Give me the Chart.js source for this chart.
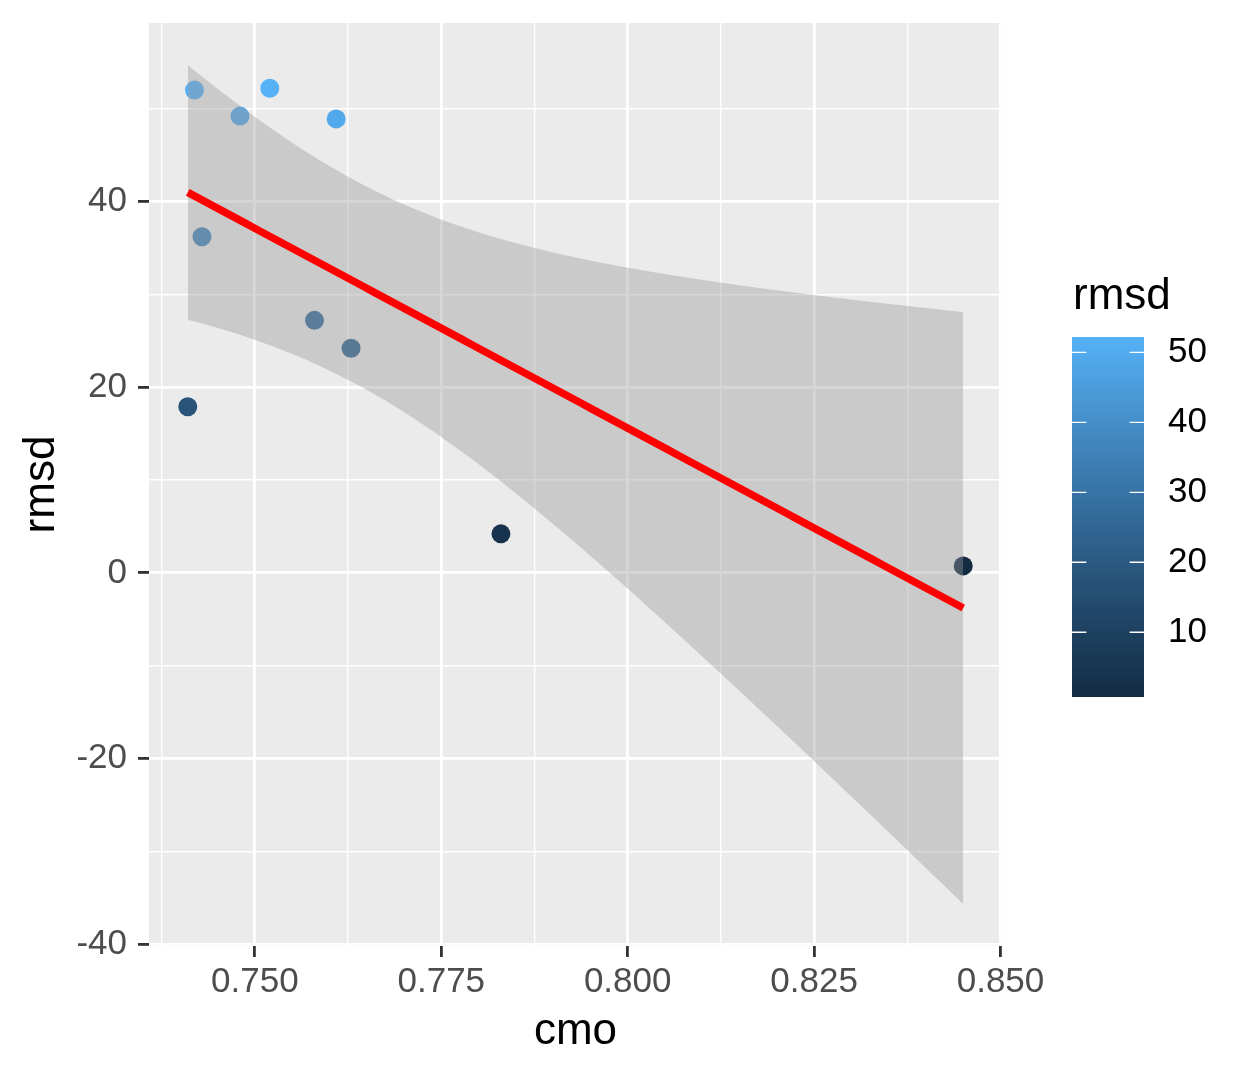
<!DOCTYPE html>
<html>
<head>
<meta charset="utf-8">
<script src="https://cdn.jsdelivr.net/npm/chart.js@4.4.1/dist/chart.umd.min.js"></script>
<style>
  html, body { margin: 0; padding: 0; background: #fff; }
  #wrap { width: 1253px; height: 1078px; position: relative; }
</style>
</head>
<body>
<div id="wrap"><canvas id="c"></canvas></div>
<script>
/* ─── Data ──────────────────────────────────────────────────────────────── */

const cmo  = [0.7410, 0.7419, 0.7429, 0.7480, 0.7520, 0.7580, 0.7609, 0.7629, 0.7830, 0.8450];
const rmsd = [17.9, 52.0, 36.2, 49.2, 52.2, 27.2, 48.9, 24.2, 4.2, 0.75];

const xMajor = [0.75, 0.775, 0.8, 0.825, 0.85];
const xMinor = [0.7375, 0.7625, 0.7875, 0.8125, 0.8375];
const yMajor = [-40, -20, 0, 20, 40];
const yMinor = [-30, -10, 10, 30, 50];
const legendTicks = [10, 20, 30, 40, 50];

const lowCol  = '#132B43';
const highCol = '#56B1F7';
const FONT = "'Liberation Sans', Arial, sans-serif";

/* ─── Colour scale (Lab interpolation like ggplot) ─────────────────────── */

function hexToLab(hex) {
    const c = [1, 3, 5].map(i => parseInt(hex.substr(i, 2), 16) / 255)
        .map(v => v <= 0.04045 ? v / 12.92 : Math.pow((v + 0.055) / 1.055, 2.4));
    const X = (0.4124564 * c[0] + 0.3575761 * c[1] + 0.1804375 * c[2]) / 0.95047;
    const Y =  0.2126729 * c[0] + 0.7151522 * c[1] + 0.0721750 * c[2];
    const Z = (0.0193339 * c[0] + 0.1191920 * c[1] + 0.9503041 * c[2]) / 1.08883;
    const f = t => t > 0.008856 ? Math.cbrt(t) : 7.787 * t + 16 / 116;
    const fx = f(X), fy = f(Y), fz = f(Z);
    return [116 * fy - 16, 500 * (fx - fy), 200 * (fy - fz)];
}

function labToRgb(L, a, b) {
    const fy = (L + 16) / 116, fx = fy + a / 500, fz = fy - b / 200;
    const fi = t => t * t * t > 0.008856 ? t * t * t : (t - 16 / 116) / 7.787;
    const X = fi(fx) * 0.95047, Y = fi(fy), Z = fi(fz) * 1.08883;
    const lin = [
         3.2404542 * X - 1.5371385 * Y - 0.4985314 * Z,
        -0.9692660 * X + 1.8760108 * Y + 0.0415560 * Z,
         0.0556434 * X - 0.2040259 * Y + 1.0572252 * Z
    ];
    const rgb = lin.map(v => v <= 0.0031308 ? 12.92 * v : 1.055 * Math.pow(v, 1 / 2.4) - 0.055)
        .map(v => Math.round(Math.min(1, Math.max(0, v)) * 255));
    return `rgb(${rgb[0]},${rgb[1]},${rgb[2]})`;
}

const labLo = hexToLab(lowCol), labHi = hexToLab(highCol);
const cMin = Math.min(...rmsd), cMax = Math.max(...rmsd);

function colourFor(v) {
    const t = (v - cMin) / (cMax - cMin);
    return labToRgb(...labLo.map((l, i) => l + (labHi[i] - l) * t));
}

/* ─── Linear fit + 95% band (geom_smooth method = "lm") ────────────────── */

function fitLm(xs, ys, nOut) {
    const n = xs.length;
    const mx = xs.reduce((a, b) => a + b, 0) / n;
    const my = ys.reduce((a, b) => a + b, 0) / n;
    let sxx = 0, sxy = 0;
    xs.forEach((x, i) => { sxx += (x - mx) ** 2; sxy += (x - mx) * (ys[i] - my); });
    const slope = sxy / sxx, icpt = my - slope * mx;
    let sse = 0;
    xs.forEach((x, i) => { sse += (ys[i] - icpt - slope * x) ** 2; });
    const s = Math.sqrt(sse / (n - 2));
    const tq = 2.306004; // qt(0.975, df = 8)
    const lo = Math.min(...xs), hi = Math.max(...xs);
    const fit = [], upper = [], lower = [];
    for (let k = 0; k < nOut; k++) {
        const x = lo + (hi - lo) * k / (nOut - 1);
        const y = icpt + slope * x;
        const se = s * Math.sqrt(1 / n + (x - mx) ** 2 / sxx);
        fit.push({ x, y });
        upper.push({ x, y: y + tq * se });
        lower.push({ x, y: y - tq * se });
    }
    return { fit, upper, lower };
}

const lm = fitLm(cmo, rmsd, 80);

// ggplot default 5% expansion on continuous scales
function expand(vals) {
    const lo = Math.min(...vals), hi = Math.max(...vals), d = (hi - lo) * 0.05;
    return [lo - d, hi + d];
}
const [xMin, xMax] = expand(cmo);
const [yMin, yMax] = expand([...rmsd, ...lm.upper.map(p => p.y), ...lm.lower.map(p => p.y)]);

/* ─── Helpers ───────────────────────────────────────────────────────────── */

const isIn = (v, arr) => arr.some(m => Math.abs(m - v) < 1e-9);

function axisGrid(major) {
    return {
        color: '#ffffff',
        lineWidth: c => (c.tick && isIn(c.tick.value, major)) ? 2.8 : 1.4,
        tickColor: c => (c.tick && isIn(c.tick.value, major)) ? '#333333' : 'rgba(0,0,0,0)',
        tickWidth: 2.8,
        tickLength: 11,
        drawTicks: true
    };
}

const panelBg = {
    id: 'panelBg',
    beforeDraw(chart) {
        const { ctx, chartArea: a } = chart;
        ctx.save();
        ctx.fillStyle = '#EBEBEB';
        ctx.fillRect(a.left, a.top, a.right - a.left, a.bottom - a.top);
        ctx.restore();
    }
};

const colourBar = {
    id: 'colourBar',
    afterDraw(chart) {
        const ctx = chart.ctx;
        const bx = 1072, bw = 72, top = 337, bot = 697;
        const yOf = v => bot - (v - cMin) / (cMax - cMin) * (bot - top);
        ctx.save();
        ctx.fillStyle = '#000';
        ctx.font = `44px ${FONT}`;
        ctx.textAlign = 'left';
        ctx.textBaseline = 'alphabetic';
        ctx.fillText('rmsd', 1073, 309);

        const g = ctx.createLinearGradient(0, bot, 0, top);
        for (let i = 0; i <= 30; i++) g.addColorStop(i / 30, colourFor(cMin + (cMax - cMin) * i / 30));
        ctx.fillStyle = g;
        ctx.fillRect(bx, top, bw, bot - top);

        ctx.strokeStyle = '#ffffff';
        ctx.lineWidth = 1.4;
        ctx.font = `35px ${FONT}`;
        ctx.textBaseline = 'middle';
        legendTicks.forEach(v => {
            const y = yOf(v);
            ctx.beginPath();
            ctx.moveTo(bx, y); ctx.lineTo(bx + 14.4, y);
            ctx.moveTo(bx + bw - 14.4, y); ctx.lineTo(bx + bw, y);
            ctx.stroke();
            ctx.fillStyle = '#000';
            ctx.fillText(String(v), 1168, y);
        });
        ctx.restore();
    }
};

/* ─── Chart ─────────────────────────────────────────────────────────────── */

Chart.defaults.font.family = FONT;

new Chart(document.getElementById('c'), {
    type: 'scatter',
    data: {
        datasets: [
            { type: 'line', data: lm.fit, borderColor: '#FF0000', borderWidth: 7.5, pointRadius: 0, fill: false, order: 0 },
            { type: 'line', data: lm.lower, borderWidth: 0, pointRadius: 0, fill: false, order: 1 },
            { type: 'line', data: lm.upper, borderWidth: 0, pointRadius: 0, fill: '-1', backgroundColor: 'rgba(153,153,153,0.4)', order: 1 },
            {
                data: cmo.map((x, i) => ({ x, y: rmsd[i] })),
                pointRadius: 9.5,
                pointBorderWidth: 0,
                pointBackgroundColor: rmsd.map(colourFor),
                order: 2
            }
        ]
    },
    options: {
        responsive: true,
        maintainAspectRatio: false,
        animation: false,
        events: [],
        layout: { padding: { top: 23, right: 251, bottom: 0, left: 0 } },
        plugins: { legend: { display: false }, tooltip: { enabled: false } },
        scales: {
            x: {
                type: 'linear',
                min: xMin,
                max: xMax,
                afterBuildTicks: s => { s.ticks = [...xMinor, ...xMajor].sort((a, b) => a - b).map(v => ({ value: v })); },
                afterFit: s => { s.height = 132; s.paddingLeft = 0; s.paddingRight = 0; },
                grid: axisGrid(xMajor),
                border: { display: false },
                ticks: {
                    color: '#4D4D4D', font: { size: 35 }, padding: 4,
                    autoSkip: false, maxRotation: 0, minRotation: 0,
                    callback: v => isIn(v, xMajor) ? v.toFixed(3) : ''
                },
                title: { display: true, text: 'cmo', color: '#000', font: { size: 44 }, padding: { top: 0, bottom: 20 } }
            },
            y: {
                type: 'linear',
                min: yMin,
                max: yMax,
                afterBuildTicks: s => { s.ticks = [...yMinor, ...yMajor].sort((a, b) => a - b).map(v => ({ value: v })); },
                afterFit: s => { s.width = 149; s.paddingTop = 0; s.paddingBottom = 0; },
                grid: axisGrid(yMajor),
                border: { display: false },
                ticks: {
                    color: '#4D4D4D', font: { size: 35 }, padding: 11,
                    autoSkip: false,
                    callback: v => isIn(v, yMajor) ? String(v) : ''
                },
                title: { display: true, text: 'rmsd', color: '#000', font: { size: 44 }, padding: { top: 15.6, bottom: 0 } }
            }
        }
    },
    plugins: [panelBg, colourBar]
});
</script>
</body>
</html>
